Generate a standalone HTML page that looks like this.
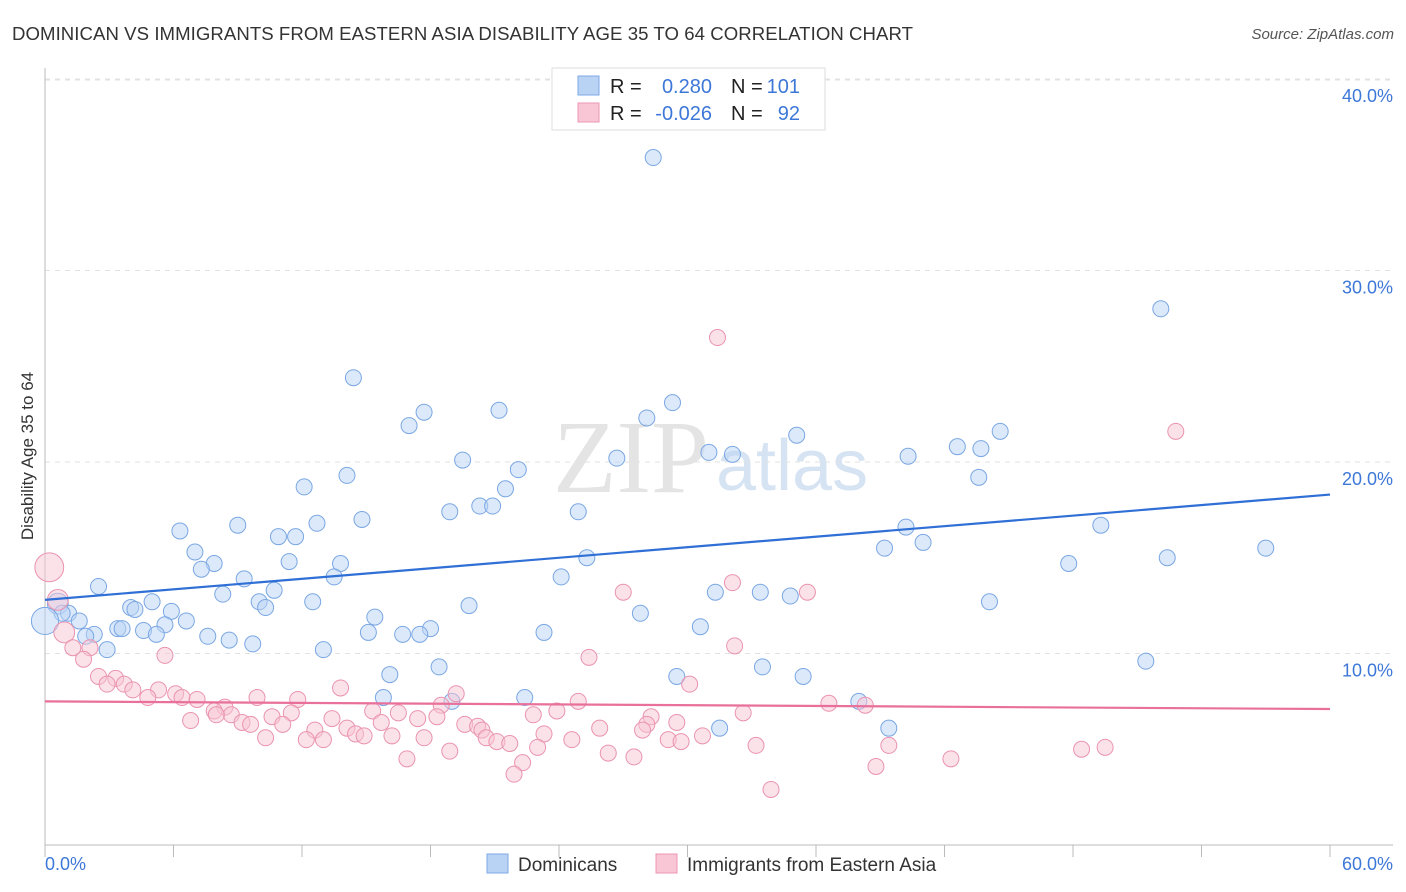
<!DOCTYPE html>
<html><head><meta charset="utf-8">
<style>
body{margin:0;background:#fff;font-family:"Liberation Sans",sans-serif;}
#wrap{position:relative;width:1406px;height:892px;overflow:hidden;}
</style></head>
<body>
<div id="wrap">
<svg id="svg" width="1406" height="892" xmlns="http://www.w3.org/2000/svg">
<text x="12" y="40" font-size="18.6" fill="#333" textLength="901">DOMINICAN VS IMMIGRANTS FROM EASTERN ASIA DISABILITY AGE 35 TO 64 CORRELATION CHART</text>
<text x="1394" y="39" font-size="15" fill="#555" font-style="italic" text-anchor="end">Source: ZipAtlas.com</text>
<text x="553" y="492" font-size="104" fill="#e4e4e4" font-family="Liberation Serif">ZIP</text>
<text x="716" y="490" font-size="72" fill="#d6e3f3">atlas</text>
<g id="grid"></g><g id="axes"></g><g id="pts"></g><g id="trend"></g>
<g>
<rect x="552" y="68" width="273" height="62" fill="#fff" stroke="#ddd"/>
<rect x="578" y="76" width="21" height="19" fill="#b9d3f5" stroke="#7ea9e6"/>
<rect x="578" y="103" width="21" height="19" fill="#f8c6d4" stroke="#ec95b0"/>
<text x="610" y="93" font-size="20" fill="#222">R =</text>
<text x="712" y="93" font-size="20" fill="#3d78d8" text-anchor="end">0.280</text>
<text x="731" y="93" font-size="20" fill="#222">N =</text>
<text x="800" y="93" font-size="20" fill="#3d78d8" text-anchor="end">101</text>
<text x="610" y="120" font-size="20" fill="#222">R =</text>
<text x="712" y="120" font-size="20" fill="#3d78d8" text-anchor="end">-0.026</text>
<text x="731" y="120" font-size="20" fill="#222">N =</text>
<text x="800" y="120" font-size="20" fill="#3d78d8" text-anchor="end">92</text>
</g>
<g>
<rect x="487" y="854" width="21" height="19" fill="#b9d3f5" stroke="#7ea9e6"/>
<text x="518" y="871" font-size="19" fill="#333">Dominicans</text>
<rect x="656" y="854" width="21" height="19" fill="#f8c6d4" stroke="#ec95b0"/>
<text x="687" y="871" font-size="19" fill="#333">Immigrants from Eastern Asia</text>
</g>
<text x="45" y="870" font-size="18" fill="#3d78d8">0.0%</text>
<text x="1393" y="870" font-size="18" fill="#3d78d8" text-anchor="end">60.0%</text>
<text transform="translate(33,456) rotate(-90)" font-size="17" fill="#333" text-anchor="middle">Disability Age 35 to 64</text>
</svg>
</div>
<script>
const yTicks=[10,20,30,40];
const yTickLabels=["10.0%","20.0%","30.0%","40.0%"];
const xTicks=[0,6,12,18,24,30,36,42,48,54,60];
const blueX=[28.4,52.1,14.4,17.7,21.2,29.3,17.0,28.1,35.1,19.5,22.1,26.7,31.0,32.1,40.3,42.6,43.7,44.6,43.6,14.1,12.1,21.5,20.3,20.9,18.9,24.9,14.8,12.7,9.0,6.3,10.9,11.7,40.2,49.3,41.0,39.2,57.0,7.0,25.3,52.4,47.8,11.4,13.8,7.9,7.3,24.1,13.5,9.3,2.5,10.7,8.3,31.3,33.4,34.8,10.0,12.5,5.0,44.1,0.6,10.3,19.8,4.0,4.2,5.9,1.1,27.8,0.8,1.6,6.6,15.4,5.6,3.4,3.6,18.0,30.6,4.6,15.1,16.7,17.5,5.2,23.3,2.3,1.9,7.6,8.6,9.7,2.9,13.0,51.4,18.4,33.5,16.1,29.5,35.4,15.8,22.4,19.0,38.0,31.5,39.4,0.0];
const blueY=[35.9,28.0,24.4,22.6,22.7,23.1,21.9,22.3,21.4,20.1,19.6,20.2,20.5,20.4,20.3,20.8,20.7,21.6,19.2,19.3,18.7,18.6,17.7,17.7,17.4,17.4,17.0,16.8,16.7,16.4,16.1,16.1,16.6,16.7,15.8,15.5,15.5,15.3,15.0,15.0,14.7,14.8,14.7,14.7,14.4,14.0,14.0,13.9,13.5,13.3,13.1,13.2,13.2,13.0,12.7,12.7,12.7,12.7,12.6,12.4,12.5,12.4,12.3,12.2,12.1,12.1,12.1,11.7,11.7,11.9,11.5,11.3,11.3,11.3,11.4,11.2,11.1,11.0,11.0,11.0,11.1,11.0,10.9,10.9,10.7,10.5,10.2,10.2,9.6,9.3,9.3,8.9,8.8,8.8,7.7,7.7,7.5,7.5,6.1,6.1,11.7];
const blueW=[1,1,1,1,1,1,1,1,1,1,1,1,1,1,1,1,1,1,1,1,1,1,1,1,1,1,1,1,1,1,1,1,1,1,1,1,1,1,1,1,1,1,1,1,1,1,1,1,1,1,1,1,1,1,1,1,1,1,1.3,1,1,1,1,1,1,1,1,1,1,1,1,1,1,1,1,1,1,1,1,1,1,1,1,1,1,1,1,1,1,1,1,1,1,1,1,1,1,1,1,1,1.7];
const pinkX=[31.4,52.8,0.2,32.1,27.0,35.6,0.6,0.9,32.2,1.3,2.1,25.4,5.6,1.8,2.5,3.3,30.1,2.9,3.7,4.1,5.3,13.8,6.1,19.2,4.8,6.4,7.1,9.9,11.8,24.9,36.6,38.3,18.5,8.4,7.9,23.9,15.3,16.5,11.5,8.7,32.6,18.3,8.0,22.8,10.6,13.4,17.4,28.3,6.8,9.2,15.7,29.5,19.6,20.2,20.4,11.1,9.6,28.1,14.1,25.9,27.9,12.6,14.5,14.9,16.2,23.3,30.7,20.6,10.3,12.2,13.0,17.7,24.6,29.1,29.7,21.1,21.7,23.0,33.2,39.4,48.4,49.5,18.9,26.3,27.5,16.9,42.3,22.3,38.8,21.9,33.9];
const pinkY=[26.5,21.6,14.5,13.7,13.2,13.2,12.8,11.1,10.4,10.3,10.3,9.8,9.9,9.7,8.8,8.7,8.4,8.4,8.4,8.1,8.1,8.2,7.9,7.9,7.7,7.7,7.6,7.7,7.6,7.5,7.4,7.3,7.3,7.2,7.0,7.0,7.0,6.9,6.9,6.8,6.9,6.7,6.8,6.8,6.7,6.6,6.6,6.7,6.5,6.4,6.4,6.4,6.3,6.2,6.0,6.3,6.3,6.3,6.1,6.1,6.0,6.0,5.8,5.7,5.7,5.8,5.7,5.6,5.6,5.5,5.5,5.6,5.5,5.5,5.4,5.4,5.3,5.1,5.2,5.2,5.0,5.1,4.9,4.8,4.6,4.5,4.5,4.3,4.1,3.7,2.9];
const pinkW=[1,1,1.8,1,1,1,1.3,1.3,1,1,1,1,1,1,1,1,1,1,1,1,1,1,1,1,1,1,1,1,1,1,1,1,1,1,1,1,1,1,1,1,1,1,1,1,1,1,1,1,1,1,1,1,1,1,1,1,1,1,1,1,1,1,1,1,1,1,1,1,1,1,1,1,1,1,1,1,1,1,1,1,1,1,1,1,1,1,1,1,1,1,1];
const blueTrend=[12.8,18.3];
const pinkTrend=[7.5,7.1];
const NS="http://www.w3.org/2000/svg";
const X0=45,X1=1330,Y0=845,YPX=19.15;
const sx=v=>X0+(X1-X0)*v/60;
const sy=v=>Y0-v*YPX;
function mk(tag,attrs,parent){const e=document.createElementNS(NS,tag);for(const k in attrs)e.setAttribute(k,attrs[k]);document.getElementById(parent).appendChild(e);return e;}
mk('line',{x1:X0,x2:1393,y1:80,y2:80,stroke:'#e2e2e2','stroke-dasharray':'5,5'},'grid');
yTicks.forEach((t,i)=>{
 const l=mk('line',{x1:X0,x2:1393,y1:sy(t),y2:sy(t),stroke:'#e2e2e2','stroke-dasharray':'5,5'},'grid');
 
 
 const tx=mk('text',{x:1393,y:sy(t)+23,'font-size':18,fill:'#3d78d8','text-anchor':'end'},'grid');
 tx.textContent=yTickLabels[i];
 
 
});
const ax=mk('line',{x1:X0,x2:1393,y1:Y0,y2:Y0,stroke:'#bbb'},'axes');


const ay=mk('line',{x1:X0,x2:X0,y1:68,y2:Y0,stroke:'#bbb'},'axes');


xTicks.forEach(t=>{
 const k=mk('line',{x1:sx(t),x2:sx(t),y1:Y0,y2:Y0+12,stroke:'#bbb'},'axes');
 
 
});
function pts(xs,ys,ws,fill,stroke,name){
 xs.forEach((x,i)=>{
  const c=mk('circle',{cx:sx(x),cy:sy(ys[i]),r:8*ws[i],fill:fill,'fill-opacity':0.5,stroke:stroke,'stroke-width':1},'pts');
  
  
 });
}
pts(blueX,blueY,blueW,'#b9d3f5','#7aa7e3','dominican-point');
pts(pinkX,pinkY,pinkW,'#f8c6d4','#ea93b0','eastern-asia-point');
const bt=mk('line',{x1:sx(0),y1:sy(blueTrend[0]),x2:sx(60),y2:sy(blueTrend[1]),stroke:'#2f6fd6','stroke-width':2.2},'trend');


const pt=mk('line',{x1:sx(0),y1:sy(pinkTrend[0]),x2:sx(60),y2:sy(pinkTrend[1]),stroke:'#e8709a','stroke-width':2.2},'trend');


</script>
</body></html>
